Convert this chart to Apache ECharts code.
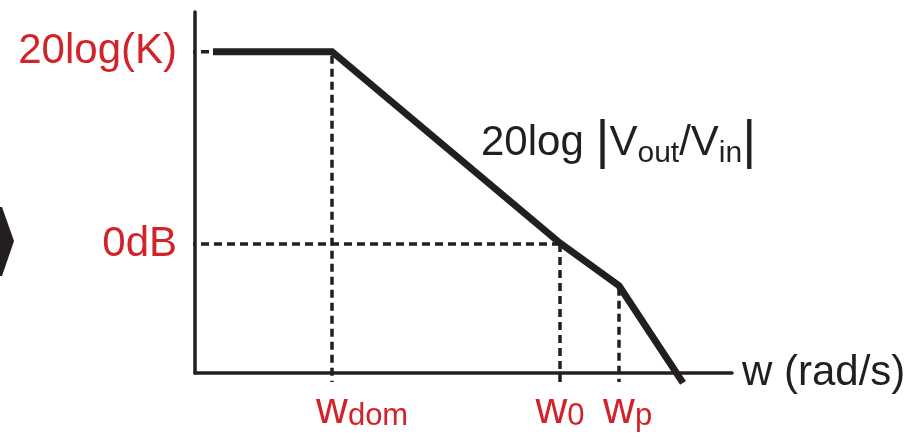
<!DOCTYPE html>
<html>
<head>
<meta charset="utf-8">
<script src="https://cdn.jsdelivr.net/npm/echarts@6/dist/echarts.min.js"></script>
<style>
  html, body { margin: 0; padding: 0; background: #fff; }
  #main { width: 924px; height: 433px; }
</style>
</head>
<body>
<div id="main"></div>
<script>
// asymptotic bode sketch, axis units are arbitrary
var curveX = [18, 137, 365, 424, 488];
var curveY = [324, 324, 131, 88, -10];

var xTickValues = [137, 365, 424];
var xTickNames = ['dom', '0', 'p'];     // subscripts of w
var yTickValues = [130, 324];
var yTickLabels = ['0dB', '20log(K)'];

var red = '#d2232a';
var ink = '#231f20';
var font = 'Liberation Sans, Arial, Helvetica, sans-serif';

var chart = echarts.init(document.getElementById('main'));

var curve = curveX.map(function (x, i) { return [x, curveY[i]]; });

// dotted guides from the axes to the corner points
var guides = [
    [[-7, yTickValues[1]], [curveX[0], yTickValues[1]]],
    [[-7, yTickValues[0]], [xTickValues[1], yTickValues[0]]],
    [[xTickValues[0], curveY[1] - 4], [xTickValues[0], -9]],
    [[xTickValues[1], yTickValues[0]], [xTickValues[1], -9]],
    [[xTickValues[2], curveY[3] - 2], [xTickValues[2], -9]]
];

var series = guides.map(function (g) {
    return {
        type: 'line',
        data: g,
        clip: false,
        symbol: 'none',
        silent: true,
        lineStyle: { color: ink, width: 3.5, type: [8, 5] }
    };
});
series.push({
    type: 'line',
    data: curve,
    clip: false,
    symbol: 'none',
    lineStyle: { color: ink, width: 7, join: 'miter' }
});

var option = {
    animation: false,
    backgroundColor: '#fff',
    title: {
        text: '{t|20log }{bar||}{t|V}{s|out}{t|/V}{s|in}{bar||}',
        left: 476,
        top: 112,
        textStyle: {
            rich: {
                t: { fontFamily: font, fontSize: 42, fontWeight: 'normal', color: ink, lineHeight: 52 },
                s: { fontFamily: font, fontSize: 30, fontWeight: 'normal', color: ink, lineHeight: 20, verticalAlign: 'bottom' },
                bar: { fontFamily: font, fontSize: 54, fontWeight: 'normal', color: ink, lineHeight: 52 }
            }
        }
    },
    grid: { left: 195, right: 192, top: 12, bottom: 57 },
    xAxis: {
        type: 'value',
        min: 0,
        max: 537,
        name: 'w (rad/s)',
        nameLocation: 'end',
        nameGap: 10,
        nameTextStyle: { fontFamily: font, fontSize: 42, color: ink, verticalAlign: 'middle' },
        axisLine: { show: true, onZero: false, lineStyle: { color: ink, width: 3.5 } },
        axisTick: { show: false },
        splitLine: { show: false },
        axisLabel: {
            customValues: xTickValues,
            margin: 17,
            formatter: function (v) {
                var sub = xTickNames[xTickValues.indexOf(v)];
                if (sub === '0') return '{w|w}{sub|0}';
                return '{sp|' + sub + '}{w|w}{sub|' + sub + '}';
            },
            rich: {
                w: { fontFamily: font, fontSize: 44, color: red, lineHeight: 42 },
                sub: { fontFamily: font, fontSize: 31, color: red, lineHeight: 24, verticalAlign: 'bottom' },
                sp: { fontFamily: font, fontSize: 31, color: 'rgba(0,0,0,0)', lineHeight: 24 }
            }
        }
    },
    yAxis: {
        type: 'value',
        min: 0,
        max: 364,
        axisLine: { show: true, onZero: false, lineStyle: { color: ink, width: 3.5 } },
        axisTick: { show: false },
        splitLine: { show: false },
        axisLabel: {
            customValues: yTickValues,
            margin: 18,
            fontFamily: font,
            fontSize: 42,
            color: red,
            formatter: function (v) { return yTickLabels[yTickValues.indexOf(v)]; }
        }
    },
    graphic: [{
        type: 'polygon',
        shape: { points: [[0, 207], [2, 207], [14, 241], [2, 276], [0, 276]] },
        style: { fill: ink }
    }],
    series: series
};

chart.setOption(option);
</script>
</body>
</html>
